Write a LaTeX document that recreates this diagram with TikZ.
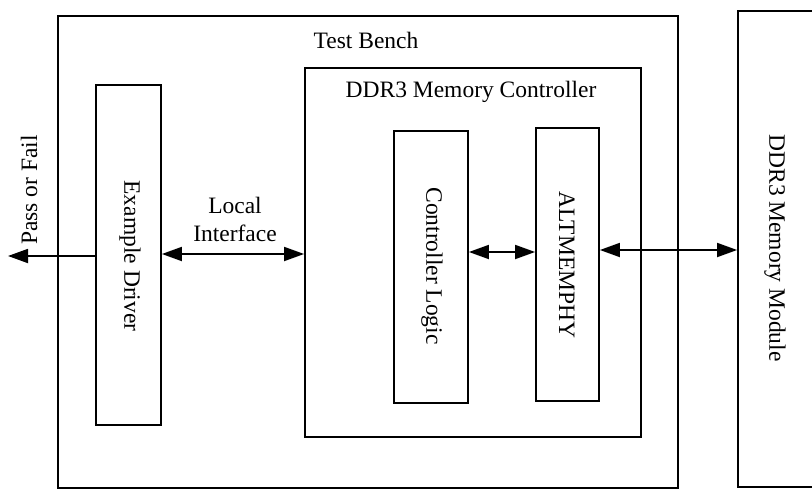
\documentclass[tikz,border=0pt]{standalone}
\usepackage{fontspec}
\setmainfont{Liberation Serif}
\usetikzlibrary{arrows.meta}
\begin{document}
\begin{tikzpicture}[x=1pt,y=-1pt,
  box/.style={draw, line width=1.8pt, rectangle, inner sep=0pt},
  lbl/.style={font=\fontsize{23.5}{28}\selectfont, inner sep=0pt, align=center},
  link/.style={line width=1.8pt, {Triangle[length=20pt,width=14pt]}-{Triangle[length=20pt,width=14pt]}},
  outlink/.style={line width=1.8pt, -{Triangle[length=20pt,width=14pt]}}]
  \clip (0,0) rectangle (812,490);
  \fill[white] (0,0) rectangle (812,490);

  % blocks
  \node[box, minimum width=620pt, minimum height=472pt] (bench) at (368,252) {};
  \node[box, minimum width=65pt, minimum height=340pt] (drv) at (128.5,255) {};
  \node[box, minimum width=336pt, minimum height=369pt] (mc) at (473,252.5) {};
  \node[box, minimum width=74pt, minimum height=272pt] (cl) at (431,267) {};
  \node[box, minimum width=63pt, minimum height=273pt] (phy) at (567.5,264.5) {};
  \node[box, minimum width=124pt, minimum height=476pt] (mod) at (800,249) {};

  % labels
  \node[lbl] (tbT) at (366,40) {Test Bench};
  \node[lbl] (mcT) at (471,92) {DDR3 Memory Controller};
  \node[lbl] (liT) at (235,219) {Local\\Interface};
  \node[lbl, rotate=90] (pfT) at (29,190) {Pass or Fail};
  \node[lbl, rotate=-90] (drvT) at (130,256) {Example Driver};
  \node[lbl, rotate=-90] (clT) at (432,266) {Controller Logic};
  \node[lbl, rotate=-90] (phyT) at (567,265) {ALTMEMPHY};
  \node[lbl, rotate=-90] (modT) at (775,248) {DDR3 Memory Module};

  % connector rows
  \coordinate (rPF) at (0,256);
  \coordinate (rLI) at (0,254);
  \coordinate (rCP) at (0,252);
  \coordinate (rPM) at (0,250);
  \coordinate (pfEnd) at (8,256);

  % connectors
  \draw[outlink] (drv.west |- rPF) -- (pfEnd);
  \draw[link] (drv.east |- rLI) -- (mc.west |- rLI);
  \draw[link] (cl.east |- rCP) -- (phy.west |- rCP);
  \draw[link] (phy.east |- rPM) -- (mod.west |- rPM);
\end{tikzpicture}
\end{document}
